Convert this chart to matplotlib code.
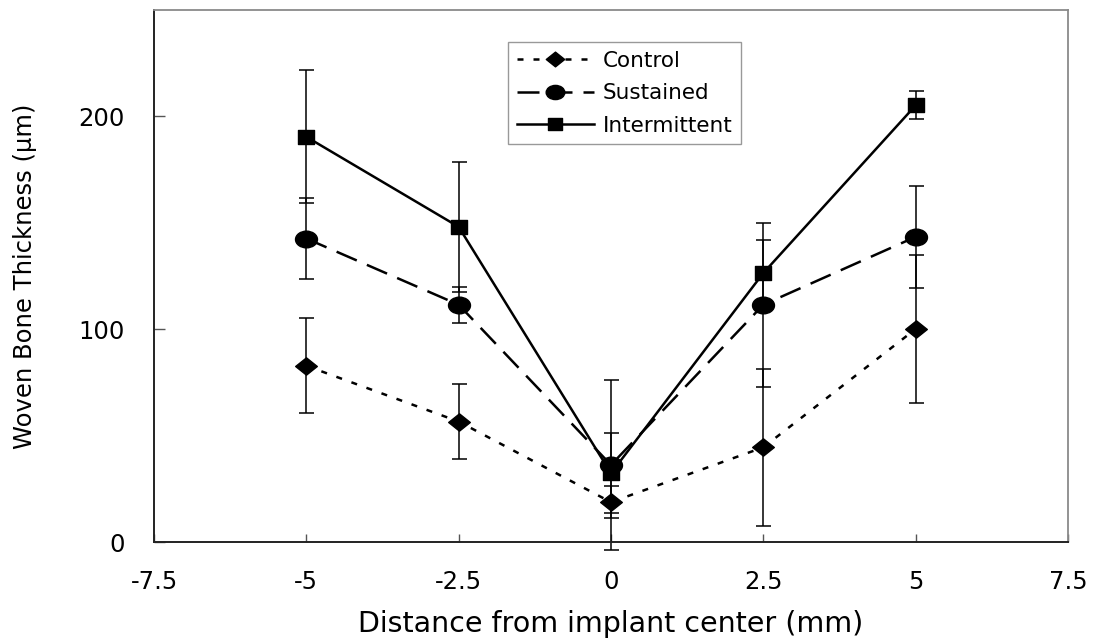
import numpy as np
import matplotlib
matplotlib.use("Agg")
import matplotlib.pyplot as plt
from matplotlib.path import Path
from matplotlib.transforms import Affine2D
from matplotlib.lines import Line2D

# ---- data ----
distance = [-5, -2.5, 0, 2.5, 5]
control = [82.8, 56.6, 18.7, 44.5, 100.1]
control_err = [22.3, 17.8, 7.4, 36.8, 35.0]
sustained = [142.6, 111.5, 36.2, 111.5, 143.4]
sustained_err = [19.2, 8.5, 40.0, 38.6, 24.1]
intermittent = [190.4, 148.1, 32.3, 126.4, 205.2]
intermittent_err = [31.2, 30.6, 18.9, 15.4, 6.6]

series_labels = ["Control", "Sustained", "Intermittent"]
x_ticks = [-7.5, -5, -2.5, 0, 2.5, 5, 7.5]
x_tick_labels = ["-7.5", "-5", "-2.5", "0", "2.5", "5", "7.5"]
y_ticks = [0, 100, 200]

plt.rcParams['font.family'] = ['DejaVu Sans']

# ---- marker shapes (slightly wide, as in the reference) ----
ellipse = Path(Affine2D().scale(1.0, 0.76).transform(Path.unit_circle().vertices),
               Path.unit_circle().codes)
diamond = Path([(-1, 0), (0, 0.8), (1, 0), (0, -0.8), (-1, 0)],
               [Path.MOVETO, Path.LINETO, Path.LINETO, Path.LINETO, Path.CLOSEPOLY])
square = Path([(-1, -0.82), (1, -0.82), (1, 0.82), (-1, 0.82), (-1, -0.82)],
              [Path.MOVETO, Path.LINETO, Path.LINETO, Path.LINETO, Path.CLOSEPOLY])

fig = plt.figure(figsize=(11.01, 6.43), dpi=100)
ax = fig.add_axes([154/1101, 1 - 542/643, (1068 - 154)/1101, (542 - 10)/643])

lw = 1.8
styles = [
    dict(y=control, e=control_err, marker=diamond, ms=15.6, dashes=(2.4, 4.0)),
    dict(y=sustained, e=sustained_err, marker=ellipse, ms=15.8, dashes=(8.8, 4.4)),
    dict(y=intermittent, e=intermittent_err, marker=square, ms=11.7, dashes=None),
]

handles = []
for st, lab in zip(styles, series_labels):
    ax.errorbar(distance, st['y'], yerr=st['e'], fmt='none', ecolor='black',
                elinewidth=1.1, capsize=5.4, capthick=1.1, clip_on=False, zorder=2)
    ls = '-' if st['dashes'] is None else (0, st['dashes'])
    ax.plot(distance, st['y'], color='black', lw=lw, linestyle=ls,
            marker=st['marker'], ms=st['ms'], mfc='black', mec='black',
            zorder=3, clip_on=False)
    handles.append(Line2D([], [], color='black', lw=lw, linestyle=ls,
                          marker=st['marker'], ms=st['ms'] * 0.85,
                          mfc='black', mec='black'))

ax.set_xlim(-7.5, 7.5)
ax.set_ylim(0, 250)
ax.set_xticks(x_ticks)
ax.set_xticklabels(x_tick_labels)
ax.set_yticks(y_ticks)

ax.tick_params(axis='x', direction='in', length=5.8, width=1, color='#555555',
               labelsize=17.5, pad=20)
ax.tick_params(axis='y', direction='in', length=8, width=1, color='#555555',
               labelsize=17.5, pad=21)

for s in ['left', 'bottom']:
    ax.spines[s].set_color('#222222')
    ax.spines[s].set_linewidth(1.4)
for s in ['top', 'right']:
    ax.spines[s].set_color('#8a8a8a')
    ax.spines[s].set_linewidth(1.3)

ax.set_xlabel("Distance from implant center (mm)", fontsize=20.5, labelpad=12)
ax.set_ylabel("Woven Bone Thickness (μm)", fontsize=17.5, labelpad=30)

leg = ax.legend(handles, series_labels, loc='upper left',
                bbox_to_anchor=(508/1101, 1 - 42/643), bbox_transform=fig.transFigure,
                fontsize=15.5, frameon=True, fancybox=False, shadow=False,
                handlelength=3.6, handletextpad=0.4, labelspacing=0.58,
                borderpad=0.4, borderaxespad=0)
leg.get_frame().set_edgecolor('#808080')
leg.get_frame().set_linewidth(1.0)

fig.savefig("out.png", dpi=100)
